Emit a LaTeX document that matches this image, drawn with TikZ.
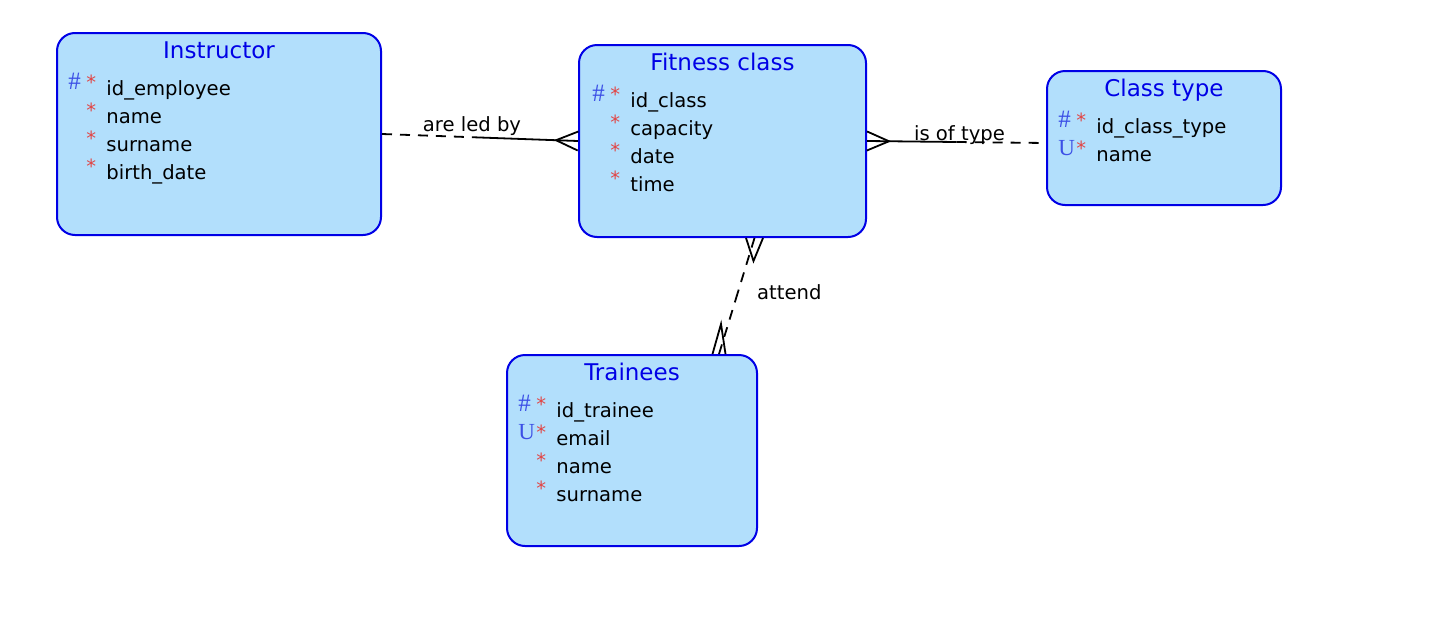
\documentclass[tikz,border=0pt]{standalone}
\usepackage{fontspec}
\setmainfont{DejaVu Sans}
\newfontfamily\markfont{Liberation Serif}
\usetikzlibrary{positioning, calc}
\definecolor{entfill}{RGB}{178,223,252}
\definecolor{entline}{RGB}{0,0,230}
\definecolor{keyblue}{RGB}{60,80,230}
\definecolor{mandred}{RGB}{225,70,70}
\newcommand{\pk}{\raisebox{3pt}{\markfont\fontsize{12.5}{12}\selectfont\textcolor{keyblue}{\#}}}
\newcommand{\uk}{\raisebox{3pt}{\markfont\fontsize{11.5}{12}\selectfont\textcolor{keyblue}{U}}}
\newcommand{\nk}{}
\newcommand{\mand}{\raisebox{3pt}{\textcolor{mandred}{*}}}
\tikzstyle{entity} = [rectangle, rounded corners=9pt, draw=entline, fill=entfill, line width=1pt]
\tikzstyle{enttitle} = [text=entline, font=\fontsize{11.5}{14}\selectfont, anchor=base, inner sep=0pt]
\tikzstyle{attr} = [font=\fontsize{9.8}{14}\selectfont, anchor=base west, inner sep=0pt]
\tikzstyle{rlabel} = [font=\fontsize{9.8}{14}\selectfont, anchor=base, inner sep=0pt]
\tikzstyle{rel} = [line width=0.9pt]
\tikzstyle{opt} = [rel, dash pattern=on 5pt off 4pt]

\begin{document}
\begin{tikzpicture}[x=0.5pt, y=-0.5pt]
  \useasboundingbox (0,0) rectangle (1449,643);

  % entities
  \node[entity, minimum width=162pt, minimum height=101pt] (Instructor) at (219,134) {};
  \node[entity, minimum width=143.5pt, minimum height=96pt] (Fitness) at (722.5,141) {};
  \node[entity, minimum width=117pt, minimum height=67pt] (ClassType) at (1164,138) {};
  \node[entity, minimum width=125pt, minimum height=95.5pt] (Trainees) at (632,450.5) {};

  % titles
  \node[enttitle] (InstructorT) at ([yshift=-13pt]Instructor.north) {Instructor};
  \node[enttitle] (FitnessT) at ([yshift=-13pt]Fitness.north) {Fitness class};
  \node[enttitle] (ClassTypeT) at ([yshift=-13pt]ClassType.north) {Class type};
  \node[enttitle] (TraineesT) at ([yshift=-13pt]Trainees.north) {Trainees};

  % attributes
  \foreach \k/\a [count=\i] in {\pk/id\_employee, \nk/name, \nk/surname, \nk/birth\_date}
    \node[attr] (Instructor-\i) at ([xshift=6pt, yshift={-31.5pt-14pt*(\i-1)}]Instructor.north west)
      {\makebox[9pt][l]{\k}\makebox[10pt][l]{\mand}\a};
  \foreach \k/\a [count=\i] in {\pk/id\_class, \nk/capacity, \nk/date, \nk/time}
    \node[attr] (Fitness-\i) at ([xshift=7pt, yshift={-31.5pt-14pt*(\i-1)}]Fitness.north west)
      {\makebox[9pt][l]{\k}\makebox[10pt][l]{\mand}\a};
  \foreach \k/\a [count=\i] in {\pk/id\_class\_type, \uk/name}
    \node[attr] (ClassType-\i) at ([xshift=6pt, yshift={-31.5pt-14pt*(\i-1)}]ClassType.north west)
      {\makebox[9pt][l]{\k}\makebox[10pt][l]{\mand}\a};
  \foreach \k/\a [count=\i] in {\pk/id\_trainee, \uk/email, \nk/name, \nk/surname}
    \node[attr] (Trainees-\i) at ([xshift=6pt, yshift={-31.5pt-14pt*(\i-1)}]Trainees.north west)
      {\makebox[9pt][l]{\k}\makebox[10pt][l]{\mand}\a};

  % are led by
  \coordinate (m1) at ($(Instructor.east)!0.5!(Fitness.west)$);
  \draw[opt] (Instructor.east) -- (m1);
  \draw[rel] (m1) -- (Fitness.west);
  \coordinate (f1) at ($(Fitness.west)!11pt!(Instructor.east)$);
  \draw[rel] ($(Fitness.west)!4.75pt!90:(Instructor.east)$) -- (f1) -- ($(Fitness.west)!4.75pt!-90:(Instructor.east)$);
  \node[rlabel] (l1) at ([xshift=-4pt, yshift=3pt]m1) {are led by};

  % is of type
  \coordinate (ct) at ([yshift=-2.5pt]ClassType.west);
  \coordinate (m2) at ($(Fitness.east)!0.5!(ct)$);
  \draw[rel] (Fitness.east) -- (m2);
  \draw[opt] (m2) -- (ct);
  \coordinate (f2) at ($(Fitness.east)!11pt!(ct)$);
  \draw[rel] ($(Fitness.east)!4.75pt!90:(ct)$) -- (f2) -- ($(Fitness.east)!4.75pt!-90:(ct)$);
  \node[rlabel] (l2) at ([xshift=1.5pt, yshift=1pt]m2) {is of type};

  % attend
  \coordinate (a1) at ([xshift=16pt]Fitness.south);
  \coordinate (a2) at ([xshift=43.5pt]Trainees.north);
  \coordinate (m3) at ($(a1)!0.5!(a2)$);
  \draw[opt] (a1) -- (m3);
  \draw[opt] (a2) -- (m3);
  \coordinate (f3) at ($(a1)+(-1,23)$);
  \draw[rel] ($(a1)+(-8.5,0)$) -- (f3) -- ($(a1)+(8.5,0)$);
  \coordinate (f4) at ($(a2)+(2,-30)$);
  \draw[rel] ($(a2)+(-6.5,0)$) -- (f4) -- ($(a2)+(6.5,0)$);
  \node[rlabel, anchor=west] (l3) at ([xshift=10pt, yshift=2pt]m3) {attend};
\end{tikzpicture}
\end{document}
